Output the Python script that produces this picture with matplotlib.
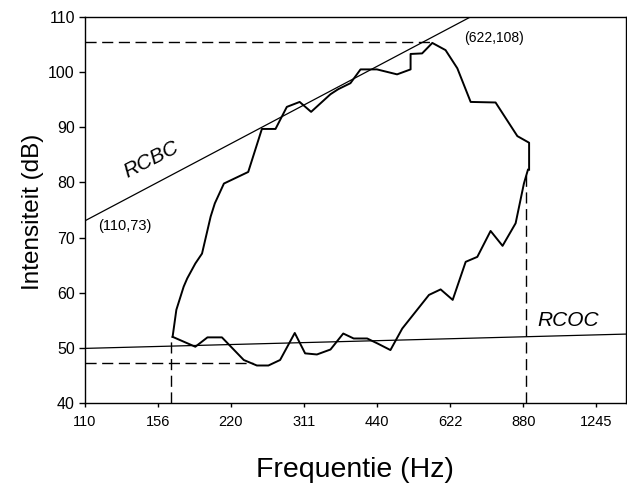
import numpy as np
import matplotlib
matplotlib.use("Agg")
import matplotlib.pyplot as plt
from matplotlib.ticker import NullLocator, FixedLocator, FixedFormatter

plt.rcParams['font.family'] = ['Liberation Sans', 'DejaVu Sans']

# Phonetogram data (Hz, dB)
upper_f = [167, 170, 176, 179, 186, 192, 200, 204, 213, 239, 255, 272, 287, 305, 322,
           353, 366, 388, 407, 440, 484, 516, 516, 545, 572, 609, 644, 686, 772, 856, 905, 905]
upper_db = [52.0, 56.9, 61.1, 62.6, 65.3, 67.1, 73.8, 76.2, 79.8, 81.9, 89.7, 89.7, 93.7, 94.6, 92.8,
            96.0, 96.9, 98.0, 100.5, 100.5, 99.6, 100.5, 103.3, 103.4, 105.3, 104.0, 100.7, 94.6, 94.5, 88.4, 87.2, 82.3]

lower_f = [167, 186, 197, 211, 234, 249, 263, 278, 298, 313, 331, 353, 375, 394, 420,
           441, 469, 496, 563, 595, 630, 670, 708, 754, 798, 849, 883, 900]
lower_db = [52.0, 50.2, 51.9, 51.9, 47.8, 46.8, 46.8, 47.8, 52.7, 49.0, 48.8, 49.7, 52.6, 51.7, 51.7,
            50.8, 49.6, 53.5, 59.6, 60.6, 58.7, 65.6, 66.5, 71.2, 68.5, 72.6, 79.8, 82.3]

# regression lines
rcbc_f = [110, 685]
rcbc_db = [73, 110]
rcoc_f = [110, 1436]
rcoc_db = [49.9, 52.5]

# dashed guides
max_db, max_f = 105.5, 572
min_db, min_f = 47.2, 245
lo_f, lo_top = 166, 52.0
hi_f, hi_top = 890, 81.7

xticks = [110, 156, 220, 311, 440, 622, 880, 1245]
yticks = [40, 50, 60, 70, 80, 90, 100, 110]

fig = plt.figure(figsize=(6.27, 4.99), dpi=100)
ax = fig.add_axes([0.1348, 0.1924, 0.8644, 0.7735])

ax.plot(upper_f, upper_db, color='black', lw=1.4)
ax.plot(lower_f, lower_db, color='black', lw=1.4)
ax.plot(rcbc_f, rcbc_db, color='black', lw=0.9)
ax.plot(rcoc_f, rcoc_db, color='black', lw=0.9)

dash = dict(color='black', lw=1.0, dashes=(8, 4))
ax.plot([110, max_f], [max_db, max_db], **dash)
ax.plot([110, min_f], [min_db, min_db], **dash)
ax.plot([lo_f, lo_f], [40, lo_top], **dash)
ax.plot([hi_f, hi_f], [40, hi_top], **dash)

ax.text(151, 84.1, 'RCBC', rotation=27, style='italic', fontsize=15,
        ha='center', va='center')
ax.text(1090, 55.0, 'RCOC', style='italic', fontsize=15, ha='center', va='center')
ax.text(133, 72.1, '(110,73)', fontsize=10.5, ha='center', va='center')
ax.text(765, 106.2, '(622,108)', fontsize=10, ha='center', va='center')

ax.set_xscale('log')
ax.set_xlim(110, 1436)
ax.set_ylim(40, 110)
ax.xaxis.set_major_locator(FixedLocator(xticks))
ax.xaxis.set_major_formatter(FixedFormatter([str(t) for t in xticks]))
ax.xaxis.set_minor_locator(NullLocator())
ax.set_yticks(yticks)
ax.tick_params(axis='x', length=3, width=1, pad=6, labelsize=10.5)
ax.tick_params(axis='y', length=4, width=1, pad=3, labelsize=11.5)
for s in ax.spines.values():
    s.set_linewidth(1.0)

fig.text(33 / 627, 1 - 212 / 499, 'Intensiteit (dB)', rotation=90,
         ha='center', va='center', fontsize=17.5)
fig.text(355 / 627, 1 - 470 / 499, 'Frequentie (Hz)', ha='center', va='center', fontsize=20.5)

fig.savefig('out.png', dpi=100)
